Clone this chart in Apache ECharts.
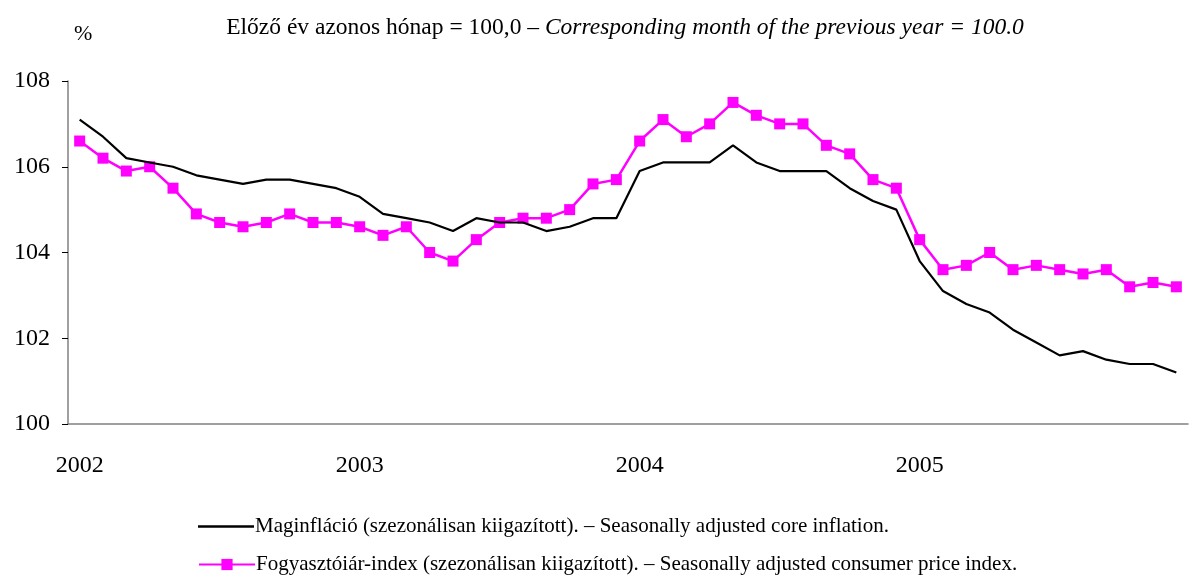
<!DOCTYPE html>
<html>
<head>
<meta charset="utf-8">
<script src="https://cdn.jsdelivr.net/npm/echarts@6/dist/echarts.min.js"></script>
<style>
  html, body { margin: 0; padding: 0; background: #fff; }
  #chart { width: 1189px; height: 575px; }
</style>
</head>
<body>
<div id="chart"></div>
<script>
var years = ['2002', '2003', '2004', '2005'];
var months = [];
years.forEach(function (y) {
    for (var m = 1; m <= 12; m++) months.push(y + '-' + (m < 10 ? '0' + m : m));
});

var coreInflation = [
    107.1, 106.7, 106.2, 106.1, 106.0, 105.8, 105.7, 105.6, 105.7, 105.7, 105.6, 105.5,
    105.3, 104.9, 104.8, 104.7, 104.5, 104.8, 104.7, 104.7, 104.5, 104.6, 104.8, 104.8,
    105.9, 106.1, 106.1, 106.1, 106.5, 106.1, 105.9, 105.9, 105.9, 105.5, 105.2, 105.0,
    103.8, 103.1, 102.8, 102.6, 102.2, 101.9, 101.6, 101.7, 101.5, 101.4, 101.4, 101.2
];
var cpi = [
    106.6, 106.2, 105.9, 106.0, 105.5, 104.9, 104.7, 104.6, 104.7, 104.9, 104.7, 104.7,
    104.6, 104.4, 104.6, 104.0, 103.8, 104.3, 104.7, 104.8, 104.8, 105.0, 105.6, 105.7,
    106.6, 107.1, 106.7, 107.0, 107.5, 107.2, 107.0, 107.0, 106.5, 106.3, 105.7, 105.5,
    104.3, 103.6, 103.7, 104.0, 103.6, 103.7, 103.6, 103.5, 103.6, 103.2, 103.3, 103.2
];

var coreName = 'Maginfláció (szezonálisan kiigazított). – Seasonally adjusted core inflation.';
var cpiName = 'Fogyasztóiár-index (szezonálisan kiigazított). – Seasonally adjusted consumer price index.';

var font = 'Liberation Serif, Times New Roman, serif';
var axisColor = '#808080';

var legendText = { fontFamily: font, fontSize: 21, color: '#000', padding: [0, 0, 0, -4] };

var chart = echarts.init(document.getElementById('chart'));
chart.setOption({
    animation: false,
    backgroundColor: '#fff',
    textStyle: { fontFamily: font },
    title: [{
        text: '{n|Előző év azonos hónap = 100,0 – }{i|Corresponding month of the previous year = 100.0}',
        left: 620,
        top: 11,
        textAlign: 'center',
        textStyle: {
            rich: {
                n: { fontFamily: font, fontSize: 23.5, fontWeight: 'normal', color: '#000' },
                i: { fontFamily: font, fontSize: 23.5, fontWeight: 'normal', color: '#000', fontStyle: 'italic' }
            }
        }
    }, {
        text: '%',
        left: 69,
        top: 18,
        textStyle: { fontFamily: font, fontSize: 22, fontWeight: 'normal', color: '#000' }
    }],
    legend: [{
        left: 198,
        top: 516,
        padding: 0,
        itemWidth: 56,
        itemHeight: 2.5,
        icon: 'rect',
        textStyle: legendText,
        data: [coreName]
    }, {
        left: 198,
        top: 554,
        padding: 0,
        itemWidth: 56,
        itemHeight: 14,
        textStyle: legendText,
        data: [cpiName]
    }],
    grid: { left: 68, right: 1, top: 81, bottom: 151, containLabel: false },
    xAxis: {
        type: 'category',
        data: months,
        boundaryGap: true,
        axisLine: { lineStyle: { color: axisColor, width: 1.5 } },
        axisTick: { interval: 0, length: 6, lineStyle: { color: '#000' } },
        axisLabel: {
            interval: function (i) { return i % 12 === 0; },
            formatter: function (v) { return v.slice(0, 4); },
            margin: 30,
            fontFamily: font,
            fontSize: 24,
            color: '#000'
        },
        splitLine: { show: false }
    },
    yAxis: {
        type: 'value',
        min: 100,
        max: 108,
        interval: 2,
        axisLine: { show: true, lineStyle: { color: axisColor, width: 1.5 } },
        axisTick: { show: true, length: 6, lineStyle: { color: '#000' } },
        axisLabel: { margin: 18, fontFamily: font, fontSize: 24, color: '#000' },
        splitLine: { show: false }
    },
    series: [{
        name: coreName,
        type: 'line',
        data: coreInflation,
        symbol: 'none',
        lineStyle: { color: '#000', width: 2.2 },
        itemStyle: { color: '#000' },
        z: 3
    }, {
        name: cpiName,
        type: 'line',
        data: cpi,
        symbol: 'rect',
        symbolSize: 11,
        lineStyle: { color: '#ff00ff', width: 2.5 },
        itemStyle: { color: '#ff00ff' },
        z: 2
    }]
});
</script>
</body>
</html>
